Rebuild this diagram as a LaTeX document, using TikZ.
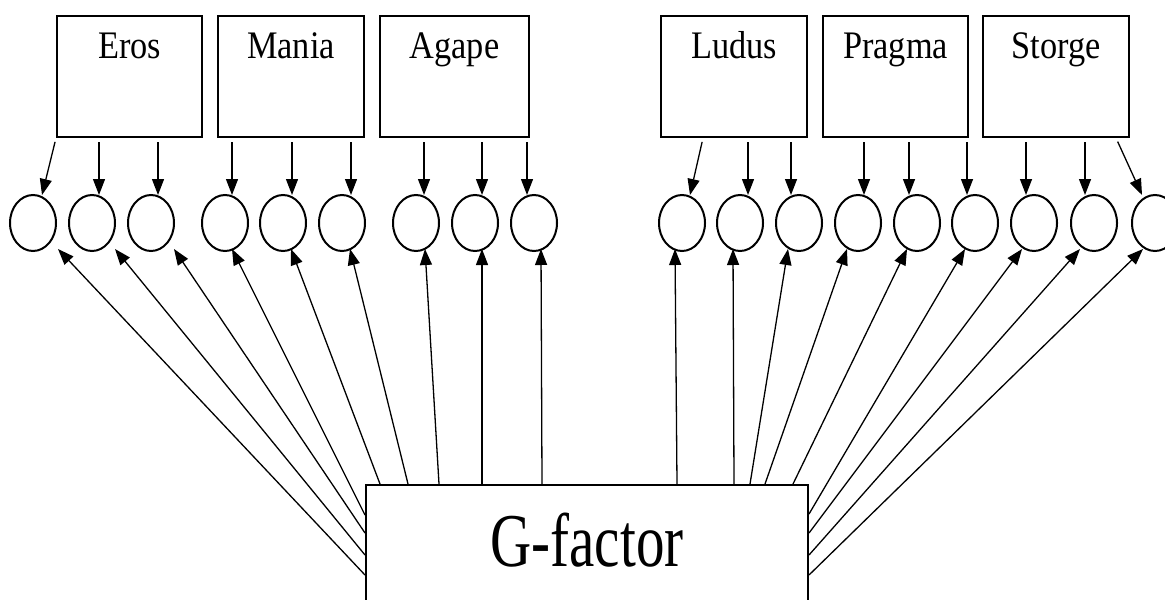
\documentclass[tikz,border=0pt]{standalone}
\usepackage{fontspec}
\setmainfont{Liberation Serif}
\newfontfamily\namefont[FakeStretch=0.88]{Liberation Serif}
\newfontfamily\factorfont[FakeStretch=0.75]{Liberation Serif}
\usetikzlibrary{shapes.geometric,arrows.meta,calc}

\begin{document}
\begin{tikzpicture}[x=0.5pt,y=-0.5pt,
  lovebox/.style={draw, line width=1pt, rectangle, inner sep=0pt,
    minimum width=#1*0.5pt, minimum height=60.5pt, anchor=north west},
  lovename/.style={inner sep=0pt, anchor=base,
    font=\namefont\fontsize{19.5pt}{20pt}\selectfont},
  indicator/.style={draw, line width=1pt, ellipse, inner sep=0pt,
    minimum width=23pt, minimum height=28pt},
  factorbox/.style={draw, line width=1pt, rectangle, inner sep=0pt,
    minimum width=221pt, minimum height=80pt, anchor=north west},
  factorname/.style={inner sep=0pt, anchor=base,
    font=\factorfont\fontsize{38pt}{40pt}\selectfont},
  load/.style={line width=0.65pt, -{Triangle[length=8pt,width=6pt]}},
  fromtop/.style={load, shorten <=2pt}]

\path[use as bounding box, clip] (0,0) rectangle (1165,599);

% the six love styles
\node[lovebox=145] (eros)   at (56,15)  {};
\node[lovebox=146] (mania)  at (217,15) {};
\node[lovebox=149] (agape)  at (379,15) {};
\node[lovebox=146] (ludus)  at (660,15) {};
\node[lovebox=145] (pragma) at (822,15) {};
\node[lovebox=146] (storge) at (982,15) {};
\foreach \b/\t in {eros/Eros, mania/Mania, agape/Agape,
                   ludus/Ludus, pragma/Pragma, storge/Storge}
  \node[lovename] (\b-name) at ($(\b.north)+(0,44)$) {\t};

% observed indicators
\foreach \i/\x in {1/33,2/92,3/151,4/225,5/283,6/342,7/416,8/475,9/534,
                   10/682,11/740,12/799,13/858,14/917,15/975,16/1034,17/1094,18/1155}
  \node[indicator] (c\i) at (\x,223) {};

% general factor
\node[factorbox] (g) at (365,484) {};
\node[factorname] (g-name) at ($(g.north)+(0,82)$) {G-factor};

% loadings of the love styles
\foreach \c/\dx/\b in {2/7/eros,3/7/eros,4/7/mania,5/9/mania,6/9/mania,
                       7/8/agape,8/7/agape,9/-7/agape,11/8/ludus,12/-8/ludus,
                       13/6/pragma,14/-8/pragma,15/-8/pragma,16/-8/storge,17/-9/storge}{
  \coordinate (top\c) at ($(c\c.north)+(\dx,1)$);
  \draw[fromtop] (top\c |- \b.south) -- (top\c);
}
\draw[fromtop] (eros.south west) -- ($(c1.north)+(9,1)$);
\draw[fromtop] ($(ludus.south west)+(43,0)$) -- ($(c10.north)+(8,1)$);
\draw[fromtop] ($(storge.south east)+(-14,0)$) -- ($(c18.north)+(-13,1)$);

% loadings of the general factor
\foreach \c/\sx/\sy/\dx in {1/0/91/25,2/0/71/23,3/0/49/23,4/0/31/7,
                            5/15/0/8,6/43/0/8,7/74/0/9,8/117/0/7,9/177/0/7}
  \draw[load] ($(g.north west)+(\sx,\sy)$) -- ($(c\c.south)+(\dx,-3)$);
\foreach \c/\sx/\sy/\dx in {10/-132/0/-7,11/-75/0/-7,12/-59/0/-11,13/-44/0/-11,
                            14/-16/0/-10,15/0/30/-10,16/0/49/-12,17/0/71/-14,18/0/91/-12}
  \draw[load] ($(g.north east)+(\sx,\sy)$) -- ($(c\c.south)+(\dx,-3)$);

\end{tikzpicture}
\end{document}
